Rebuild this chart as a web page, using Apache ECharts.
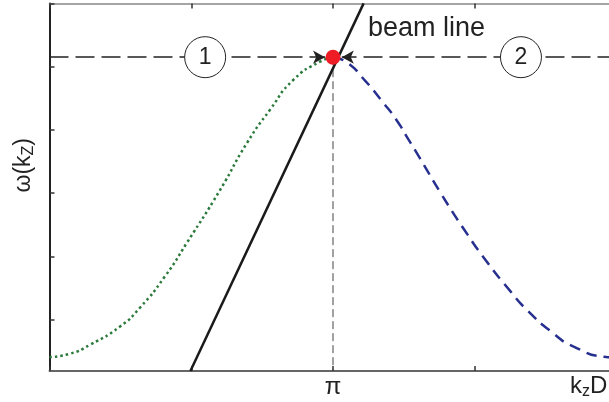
<!DOCTYPE html>
<html>
<head>
<meta charset="utf-8">
<script src="https://cdn.jsdelivr.net/npm/echarts@6/dist/echarts.min.js"></script>
<style>
  html, body { margin: 0; padding: 0; background: #fff; }
  #chart { width: 609px; height: 402px; }
</style>
</head>
<body>
<div id="chart"></div>
<script>
// x in units of pi (k_z D / pi), y in arbitrary frequency units
const greenX = [0.0, 0.072, 0.143, 0.249, 0.319, 0.407, 0.484, 0.602, 0.696, 0.778, 0.86, 0.954, 1.0]
const greenY = [0.41, 0.463, 0.605, 0.894, 1.19, 1.684, 2.212, 3.054, 3.79, 4.32, 4.79, 5.08, 5.15]
const blueX = [1.0, 1.048, 1.113, 1.172, 1.225, 1.266, 1.307, 1.383, 1.459, 1.542, 1.624, 1.683, 1.776, 1.847, 1.965, 2.0]
const blueY = [5.15, 5.07, 4.78, 4.46, 4.15, 3.85, 3.55, 2.98, 2.45, 1.92, 1.46, 1.16, 0.79, 0.58, 0.41, 0.40]
const beamX = [0.497, 1.108]
const beamY = [0.19, 6.0]
const levelY = 5.15
const markerX = [0.549, 1.663]
const markerLabels = ['1', '2']
const yTicks = [1, 2, 3, 4, 5, 6]

const FONT = 'Liberation Sans, Arial, Helvetica, sans-serif'
const chart = echarts.init(document.getElementById('chart'))

const zip = (xs, ys) => xs.map((x, i) => [x, ys[i]])

const option = {
  animation: false,
  grid: { left: 49.5, right: -7.5, top: 3.4, bottom: 31, outerBoundsMode: 'none', containLabel: false },
  xAxis: [
    {
      type: 'value', min: 0, max: 2, interval: 0.5,
      axisLine: { lineStyle: { color: '#666', width: 2 } },
      axisTick: { inside: true, length: 5, lineStyle: { color: '#333', width: 1.5 } },
      splitLine: { show: false },
      axisLabel: {
        fontFamily: FONT, fontSize: 24, color: '#222', margin: 4,
        formatter: v => (v === 1 ? 'π' : '')
      }
    },
    {
      type: 'value', min: 0, max: 2, interval: 0.5, position: 'top',
      axisLine: { lineStyle: { color: '#888', width: 1.5 } },
      axisTick: { inside: true, length: 5, lineStyle: { color: '#333', width: 1.5 } },
      axisLabel: { show: false },
      splitLine: { show: false }
    }
  ],
  yAxis: {
    type: 'value', min: 0.19, max: 6,
    axisLine: { lineStyle: { color: '#222', width: 2 } },
    axisTick: { inside: true, length: 5, customValues: yTicks, lineStyle: { color: '#333', width: 1.5 } },
    axisLabel: { show: false },
    splitLine: { show: false }
  },
  graphic: [
    {
      type: 'text', left: 12, top: 138, rotation: Math.PI / 2, origin: [0, 0],
      style: {
        text: '{a|ω(k}{s|Z}{a|)}',
        rich: {
          a: { fontFamily: FONT, fontSize: 23, fill: '#222' },
          s: { fontFamily: FONT, fontSize: 16, fill: '#222', padding: [10, 0, 0, 0] }
        }
      }
    },
    {
      type: 'text', left: 570, top: 374,
      style: {
        text: '{a|k}{s|z}{a|D}',
        rich: {
          a: { fontFamily: FONT, fontSize: 24, fill: '#222' },
          s: { fontFamily: FONT, fontSize: 16, fill: '#222', padding: [12, 0, 0, 0] }
        }
      }
    },
    {
      type: 'text', left: 368, top: 15,
      style: { text: 'beam line', fontFamily: FONT, fontSize: 27, fill: '#222' }
    }
  ],
  series: [
    {
      type: 'line', data: zip(greenX, greenY), smooth: 0.6, showSymbol: false,
      lineStyle: { color: '#2b7a3b', width: 2.5, type: [2.5, 3] }, z: 3
    },
    {
      type: 'line', data: zip(blueX, blueY), smooth: 0.6, showSymbol: false,
      lineStyle: { color: '#27308f', width: 2.5, type: [11, 7] }, z: 3
    },
    {
      type: 'line', data: zip(beamX, beamY), showSymbol: false,
      lineStyle: { color: '#1a1a1a', width: 2.5 }, z: 4
    },
    {
      type: 'line', data: [[1, levelY], [1, 0.19]], showSymbol: false,
      lineStyle: { color: '#444', width: 1, type: [8, 4] }, z: 2
    },
    {
      type: 'line', data: [],
      markLine: {
        silent: true, symbol: ['none', 'arrow'], symbolSize: [10, 12],
        label: { show: false },
        lineStyle: { color: '#222', width: 1.5, type: [19, 7] },
        data: [
          [{ coord: [0, levelY] }, { coord: [0.972, levelY] }],
          [{ coord: [2, levelY] }, { coord: [1.031, levelY] }]
        ]
      },
      z: 2
    },
    {
      type: 'scatter', data: markerX.map((x, i) => ({ value: [x, levelY], name: markerLabels[i] })),
      symbol: 'circle', symbolSize: 41,
      itemStyle: { color: '#fff', borderColor: '#222', borderWidth: 1, opacity: 1 },
      label: {
        show: true, position: 'inside', formatter: p => p.name,
        fontFamily: FONT, fontSize: 23, color: '#222'
      },
      z: 6
    },
    {
      type: 'scatter', data: [[1, levelY]], symbolSize: 15,
      itemStyle: { color: '#ee1c25', opacity: 1 },
      z: 7
    }
  ]
}

chart.setOption(option)
</script>
</body>
</html>
